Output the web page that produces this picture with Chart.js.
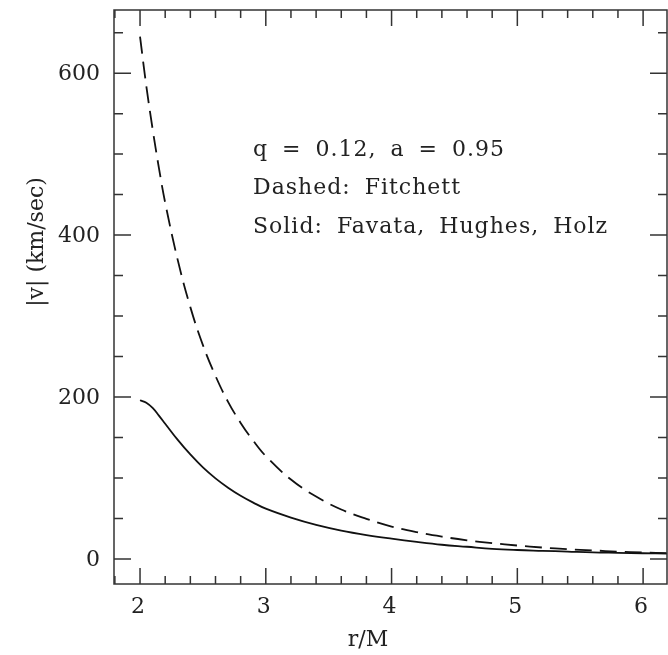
<!DOCTYPE html>
<html>
<head>
<meta charset="utf-8">
<script src="https://cdn.jsdelivr.net/npm/chart.js@4"></script>
<style>
  html, body { margin: 0; padding: 0; background: #fff; }
  canvas { display: block; }
</style>
</head>
<body>
<canvas id="recoil" width="668" height="655"></canvas>
<script>
// r/M sample points
const rValues = [2.0, 2.05, 2.1, 2.15, 2.2, 2.3, 2.4, 2.5, 2.6, 2.7, 2.8, 2.9, 3.0, 3.2, 3.4, 3.6, 3.8,
                 4.0, 4.2, 4.4, 4.6, 4.8, 5.0, 5.2, 5.4, 5.6, 5.8, 6.0, 6.2];
// |v| (km/sec), dashed curve (Fitchett)
const fitchett = [645, 584, 531, 483, 440, 369, 311, 264, 226, 194, 168, 146, 127, 98, 77, 61, 49.5,
                  40, 33, 27.5, 23, 19.5, 16.5, 14, 12, 10.5, 9, 8, 7];
// |v| (km/sec), solid curve (Favata, Hughes, Holz)
const favata = [196, 193, 186.5, 177, 167, 147, 129, 113, 99.5, 88, 78, 69.5, 62, 51, 42, 35, 29.5,
                25, 21, 17.5, 15, 12.5, 11, 10, 9, 8, 7.5, 7, 6.5];

const xTickLabels = [2, 3, 4, 5, 6];
const yTickLabels = [0, 200, 400, 600];
const notes = ['q = 0.12, a = 0.95', 'Dashed: Fitchett', 'Solid: Favata, Hughes, Holz'];

const FONT = '"DejaVu Serif", serif';
const INK = '#333';

function pairs(ys) {
    return rValues.map((r, i) => ({ x: r, y: ys[i] }));
}

// frame, inward ticks and all text
const framePlugin = {
    id: 'frame',
    afterDraw(chart) {
        const ctx = chart.ctx;
        const a = chart.chartArea;
        const xs = chart.scales.x;
        const ys = chart.scales.y;
        ctx.save();
        ctx.strokeStyle = INK;
        ctx.lineWidth = 1.5;
        ctx.strokeRect(a.left, a.top, a.right - a.left, a.bottom - a.top);

        ctx.beginPath();
        for (let i = 9; i <= 31; i++) {
            const v = i / 5;
            const px = xs.getPixelForValue(v);
            if (px < a.left || px > a.right) continue;
            const len = (i % 5 === 0) ? 16 : 8;
            ctx.moveTo(px, a.bottom); ctx.lineTo(px, a.bottom - len);
            ctx.moveTo(px, a.top); ctx.lineTo(px, a.top + len);
        }
        for (let v = 0; v <= 650; v += 50) {
            const py = ys.getPixelForValue(v);
            const len = (v % 200 === 0) ? 17 : 9;
            ctx.moveTo(a.left, py); ctx.lineTo(a.left + len, py);
            ctx.moveTo(a.right, py); ctx.lineTo(a.right - len, py);
        }
        ctx.stroke();

        ctx.fillStyle = '#222';
        ctx.font = '22px ' + FONT;
        ctx.textBaseline = 'middle';
        ctx.textAlign = 'center';
        xTickLabels.forEach(v => {
            ctx.fillText(String(v), xs.getPixelForValue(v) - 2, 607);
        });
        ctx.textAlign = 'right';
        yTickLabels.forEach(v => {
            ctx.fillText(String(v), 100, ys.getPixelForValue(v) + 1);
        });

        ctx.textAlign = 'center';
        ctx.fillText('r/M', 368, 640);

        ctx.save();
        ctx.translate(37, 242);
        ctx.rotate(-Math.PI / 2);
        ctx.fillText('|v| (km/sec)', 0, 0);
        ctx.restore();

        ctx.textAlign = 'left';
        ctx.letterSpacing = '1px';
        ctx.wordSpacing = '6px';
        notes.forEach((t, i) => {
            ctx.fillText(t, 253, 150 + i * 38.5);
        });
        ctx.restore();
    }
};

new Chart(document.getElementById('recoil'), {
    type: 'scatter',
    data: {
        datasets: [
            {
                label: 'Fitchett',
                data: pairs(fitchett),
                showLine: true,
                borderColor: '#111',
                borderWidth: 1.8,
                borderDash: [17, 8],
                pointRadius: 0,
                tension: 0.4
            },
            {
                label: 'Favata, Hughes, Holz',
                data: pairs(favata),
                showLine: true,
                borderColor: '#111',
                borderWidth: 1.8,
                pointRadius: 0,
                tension: 0.4
            }
        ]
    },
    options: {
        responsive: false,
        animation: false,
        devicePixelRatio: 1,
        layout: { padding: { left: 0, right: 1, top: 10, bottom: 0 } },
        plugins: {
            legend: { display: false },
            tooltip: { enabled: false }
        },
        scales: {
            x: {
                type: 'linear',
                min: 1.793,
                max: 6.19,
                grid: { display: false },
                border: { display: false },
                ticks: { display: false },
                afterFit: s => { s.height = 71; }
            },
            y: {
                type: 'linear',
                min: -31,
                max: 678,
                grid: { display: false },
                border: { display: false },
                ticks: { display: false },
                afterFit: s => { s.width = 114; }
            }
        }
    },
    plugins: [framePlugin]
});
</script>
</body>
</html>
